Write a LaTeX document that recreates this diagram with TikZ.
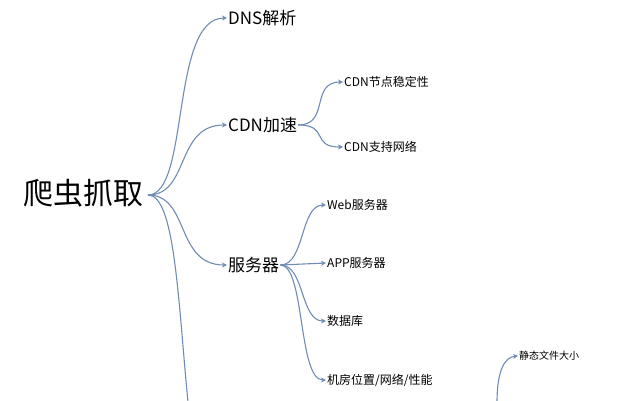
\documentclass[tikz,border=0pt]{standalone}
\usepackage{fontspec}
\newfontfamily\cjk{Noto Sans CJK SC}
\usetikzlibrary{arrows.meta}
\definecolor{branchc}{RGB}{112,140,180}
\begin{document}
\begin{tikzpicture}[x=1pt, y=-1pt,
  link/.style={draw=branchc, line width=1.1pt, -{Stealth[length=5pt,width=5pt]}},
  topic/.style={font=\cjk\fontsize{17}{17}\selectfont, anchor=west, inner sep=1pt},
  leaf/.style={font=\cjk\fontsize{12}{12}\selectfont, anchor=west, inner sep=1pt}]
\useasboundingbox (0,0) rectangle (617,400);
% Zentrum
\node[font=\cjk\fontsize{30}{30}\selectfont, inner sep=1pt] (root) at (83,193) {爬虫抓取};
\coordinate (r) at (148,195);

% Hauptzweige
\node[topic] (dns) at (227,18) {DNS解析};
\node[topic] (cdn) at (227,125) {CDN加速};
\node[topic] (srv) at (227,265) {服务器};
\coordinate (down) at (188,402);

% Unterzweige
\node[leaf] (cdn1) at (343,82) {CDN节点稳定性};
\node[leaf] (cdn2) at (343,147) {CDN支持网络};
\node[leaf] (web) at (326,205) {Web服务器};
\node[leaf] (app) at (326,263) {APP服务器};
\node[leaf] (db) at (326,321) {数据库};
\node[leaf] (room) at (326,380) {机房位置/网络/性能};
\node[font=\cjk\fontsize{10}{10}\selectfont, anchor=west, inner sep=1pt] (stat) at (518,356) {静态文件大小};
\coordinate (statin) at (497,402);

% Verbindungen
\draw[link] (r) .. controls (190,195) and (170,18) .. (dns.west);
\draw[link] (r) .. controls (190,195) and (175,125) .. (cdn.west);
\draw[link] (r) .. controls (190,195) and (175,265) .. (srv.west);
\draw[draw=branchc, line width=1.1pt] (r) .. controls (175,195) and (178,300) .. (down);
\draw[link] (cdn.east) .. controls (330,125) and (310,82) .. (cdn1.west);
\draw[link] (cdn.east) .. controls (330,125) and (310,147) .. (cdn2.west);
\draw[link] (srv.east) .. controls (305,265) and (300,205) .. (web.west);
\draw[link] (srv.east) -- (app.west);
\draw[link] (srv.east) .. controls (305,265) and (300,321) .. (db.west);
\draw[link] (srv.east) .. controls (305,265) and (298,380) .. (room.west);
\draw[draw=branchc, line width=1.1pt, -{Stealth[length=5pt,width=5pt]}] (statin) .. controls (497,370) and (505,357) .. (stat.west);
\end{tikzpicture}
\end{document}
